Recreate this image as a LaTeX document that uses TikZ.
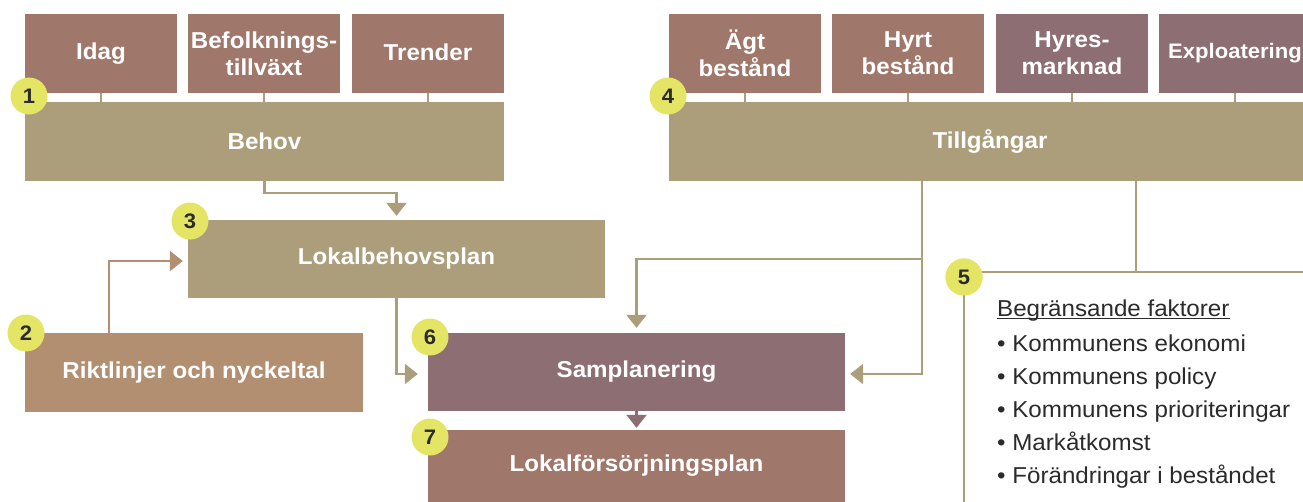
\documentclass[tikz,border=0pt]{standalone}
\usepackage{fontspec}
\setmainfont[FakeStretch=1.05]{Liberation Sans}
\usetikzlibrary{arrows.meta}
\definecolor{rose}{HTML}{A0776B}
\definecolor{tan}{HTML}{AD9E7B}
\definecolor{plum}{HTML}{8C6E73}
\definecolor{ochre}{HTML}{B28F70}
\definecolor{dot}{HTML}{E5E565}
\definecolor{ink}{HTML}{2B2B2B}
\begin{document}
\begin{tikzpicture}[x=1pt,y=-1pt,
  box/.style={draw=none,text=white,align=center,inner sep=0pt,
    font=\bfseries\fontsize{23}{27}\selectfont},
  small/.style={box,minimum width=152,minimum height=79},
  wide/.style={box,minimum height=79},
  num/.style={circle,fill=dot,inner sep=0pt,minimum size=37,text=ink,
    font=\bfseries\fontsize{21}{21}\selectfont},
  tick/.style={draw=tan,line width=2.2pt},
  conn/.style={draw=tan,line width=2.2pt},
  arr/.style={-{Triangle[width=20pt,length=13pt]}},
  item/.style={anchor=base west,inner sep=0pt,text=ink,
    font=\fontsize{23}{23}\selectfont}
]
\useasboundingbox (0,0) rectangle (1303,501);
\fill[white] (0,0) rectangle (1303,501);

% top boxes left
\node[small,fill=rose] (idag) at (101,53.5) {\raisebox{2pt}{Idag}};
\node[small,fill=rose] (befolk) at (264,53.5) {Befolknings-\\tillväxt};
\node[small,fill=rose] (trender) at (428,53.5) {\raisebox{2pt}{Trender}};
\node[wide,fill=tan,minimum width=479] (behov) at (264.5,141.5) {\raisebox{1.5pt}{Behov}};

% top boxes right
\node[small,fill=rose] (agt) at (745,53.5) {Ägt\\bestånd};
\node[small,fill=rose] (hyrt) at (908,53.5) {Hyrt\\bestånd};
\node[small,fill=plum] (hyres) at (1072,53.5) {Hyres-\\marknad};
\node[small,fill=plum] (explo) at (1235,53.5) {\fontsize{21}{25}\selectfont\raisebox{1pt}{Exploatering}};
\node[wide,fill=tan,minimum width=642] (tillg) at (990,141.5) {\raisebox{1.5pt}{Tillgångar}};

% middle boxes
\node[box,fill=tan,minimum width=417,minimum height=78] (lbp) at (396.5,259) {Lokalbehovsplan};
\node[box,fill=ochre,minimum width=338,minimum height=79] (rikt) at (194,372.5) {Riktlinjer och nyckeltal};
\node[box,fill=plum,minimum width=417,minimum height=78] (samp) at (636.5,372) {Samplanering};
\node[box,fill=rose,minimum width=417,minimum height=72] (lfp) at (636.5,466) {\raisebox{-2pt}{Lokalförsörjningsplan}};

% ticks
\foreach \b in {idag,befolk,trender}{\draw[tick] (\b.south) -- (\b.south |- behov.north);}
\foreach \b in {agt,hyrt,hyres,explo}{\draw[tick] (\b.south) -- (\b.south |- tillg.north);}

% connectors
\draw[conn,arr,shorten >=4pt] (behov.south) -- ++(0,12) -| (lbp.north);
\coordinate (r1) at ([xshift=84pt]rikt.north west);
\draw[draw=ochre,line width=2.2pt,shorten >=5pt,
  -{Triangle[width=20pt,length=13pt]}] (r1) |- ([yshift=-2pt]lbp.west);
\draw[conn,arr,shorten >=10pt] (lbp.south) |- ([yshift=-2pt]samp.west);
\draw[draw=plum,line width=2.2pt,-{Triangle[width=20pt,length=13pt]},shorten >=2pt] (samp.south) -- (lfp.north);

\coordinate (t1) at ([xshift=253pt]tillg.south west);
\coordinate (t2) at ([xshift=253pt,yshift=-78pt]tillg.south west);
\draw[conn,arr,shorten >=5pt] (t1) |- ([yshift=-2pt]samp.east);
\draw[conn,arr,shorten >=5pt] (t2) -| (samp.north);

% limiting factors
\node[num] (n5) at (964,277) {5};
\coordinate (t5) at ([xshift=467pt]tillg.south west);
\coordinate (h5) at (1303,272);
\draw[conn] (t5) -- (t5 |- h5);
\draw[conn] (n5.center |- h5) -- (h5);
\draw[conn] (n5.center) -- ++(0,230);

\node[item] (title) at (997,316.5) {Begränsande faktorer};
\draw[ink,line width=1.1pt] ([yshift=-2pt]title.base west) -- ([yshift=-2pt]title.base east);
\node[item] (i1) at (997,351.5) {• Kommunens ekonomi};
\node[item] (i2) at (997,384.5) {• Kommunens policy};
\node[item] (i3) at (997,417.5) {• Kommunens prioriteringar};
\node[item] (i4) at (997,450.5) {• Markåtkomst};
\node[item] (i5) at (997,483.5) {• Förändringar i beståndet};

% numbers
\node[num] (n1) at (29,96) {1};
\node[num] (n2) at (26,333) {2};
\node[num] (n3) at (190,221) {3};
\node[num] (n4) at (668,96) {4};
\node[num] at (964,277) {5};
\node[num] (n6) at (430,337) {6};
\node[num] (n7) at (430,437) {7};
\end{tikzpicture}
\end{document}
